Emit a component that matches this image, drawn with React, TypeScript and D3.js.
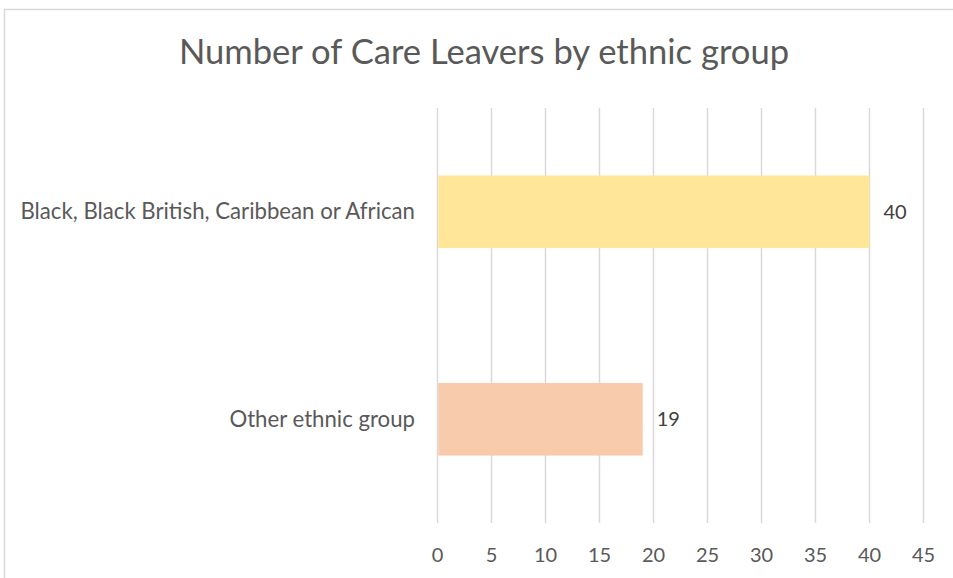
import React from "react";
import * as d3 from "d3";

const categories = ["Black, Black British, Caribbean or African", "Other ethnic group"];
const values = [40, 19];
const barColors = ["#FFE699", "#F8CBAD"];
const xTicks = [0, 5, 10, 15, 20, 25, 30, 35, 40, 45];
const title = "Number of Care Leavers by ethnic group";

const W = 953;
const H = 578;
const FONT = "Lato, 'Open Sans', sans-serif";

export default function App() {
  const x = d3.scaleLinear().domain([0, 45]).range([437.5, 923.5]);
  const y = d3
    .scaleBand<string>()
    .domain(categories)
    .range([108, 523])
    .paddingInner(0.65)
    .paddingOuter(0.325);

  return (
    <svg
      width={W}
      height={H}
      style={{ position: "absolute", left: 0, top: 0, background: "#fff" }}
    >
      <rect x={4.5} y={9.5} width={W + 10} height={H + 10} fill="#fff" stroke="#d9d9d9" strokeWidth={1.5} />
      <text
        x={484}
        y={64}
        textAnchor="middle"
        fontFamily={FONT}
        fontSize={34.6}
        fill="#595959"
      >
        {title}
      </text>
      {xTicks.map((t) => (
        <g key={t}>
          <line x1={x(t)} x2={x(t)} y1={108} y2={523} stroke="#d9d9d9" strokeWidth={1.5} />
          <text
            x={x(t)}
            y={562}
            textAnchor="middle"
            fontFamily={FONT}
            fontSize={20}
            fill="#595959"
          >
            {t}
          </text>
        </g>
      ))}
      {categories.map((c, i) => (
        <g key={c}>
          <rect
            x={x(0) + 0.75}
            y={y(c)!}
            width={x(values[i]) - x(0) - 0.75}
            height={y.bandwidth()}
            fill={barColors[i]}
          />
          <text
            x={x(values[i]) + 14}
            y={y(c)! + y.bandwidth() / 2 + 7}
            fontFamily={FONT}
            fontSize={20}
            fill="#404040"
          >
            {values[i]}
          </text>
          <text
            x={415}
            y={y(c)! + y.bandwidth() / 2 + 7.5}
            textAnchor="end"
            fontFamily={FONT}
            fontSize={22.2}
            fill="#595959"
          >
            {c}
          </text>
        </g>
      ))}
    </svg>
  );
}
